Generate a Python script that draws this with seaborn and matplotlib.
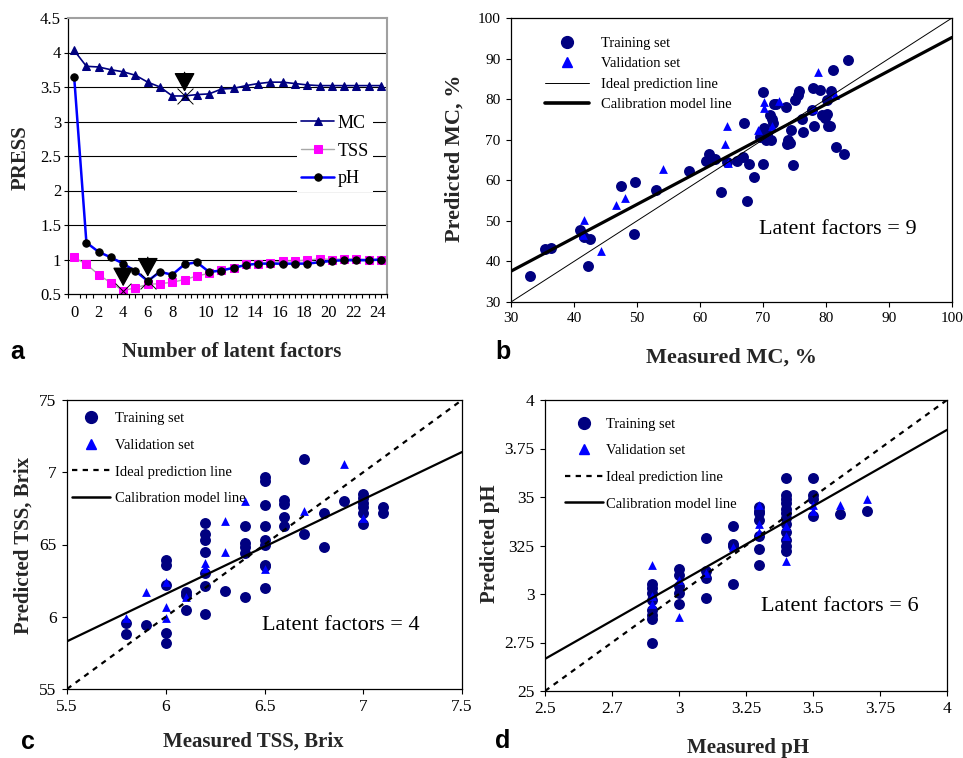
import numpy as np
import pandas as pd
import seaborn as sns
import matplotlib.pyplot as plt
from matplotlib.lines import Line2D

# ---- panel a: PRESS vs number of latent factors ----
factors = list(range(26))
press_mc = [4.03, 3.80, 3.79, 3.75, 3.72, 3.67, 3.57, 3.50, 3.37, 3.37, 3.39, 3.40, 3.47,
            3.48, 3.52, 3.55, 3.57, 3.57, 3.55, 3.53, 3.52, 3.52, 3.52, 3.52, 3.52, 3.52]
press_tss = [1.03, 0.93, 0.78, 0.66, 0.55, 0.59, 0.64, 0.65, 0.67, 0.71, 0.76, 0.80, 0.85,
             0.87, 0.93, 0.94, 0.95, 0.98, 0.98, 0.99, 1.01, 1.00, 1.01, 1.01, 1.00, 1.00]
press_ph = [3.65, 1.245, 1.11, 1.03, 0.94, 0.83, 0.69, 0.82, 0.78, 0.93, 0.96, 0.82, 0.84,
            0.88, 0.92, 0.94, 0.94, 0.94, 0.94, 0.94, 0.96, 0.98, 0.99, 0.99, 0.99, 1.00]
opt_mc, opt_tss, opt_ph = 9, 4, 6
xlab_a = list(range(0, 25, 2))

# ---- panel b: MC ----
mc_train_x = [33.0, 35.4, 36.3, 40.9, 41.6, 42.6, 42.3, 47.4, 49.6, 49.7, 53.0, 58.3, 61.0, 61.5,
              62.4, 63.3, 64.3, 65.8, 67.0, 66.9, 67.7, 67.4, 68.5, 70.0, 70.0, 69.6, 70.2, 70.4,
              71.1, 71.4, 71.6, 71.3, 71.8, 72.0, 70.6, 73.7, 73.9, 73.8, 74.3, 74.5, 74.8, 75.0,
              75.5, 75.7, 76.2, 76.3, 78.0, 78.1, 77.8, 79.1, 79.4, 79.9, 80.1, 80.1, 80.7, 80.8,
              80.3, 81.1, 81.6, 82.9, 83.5]
mc_train_y = [36.5, 43.1, 43.4, 47.8, 46.0, 45.5, 38.9, 58.6, 46.7, 59.5, 57.5, 62.2, 64.8, 66.4,
              65.3, 57.0, 64.5, 64.8, 74.1, 65.7, 63.9, 54.8, 60.8, 81.7, 63.9, 70.7, 73.0, 69.9,
              76.0, 75.2, 74.0, 70.0, 78.7, 78.9, 71.5, 78.1, 70.0, 68.9, 69.2, 72.3, 63.7, 79.9,
              81.0, 82.0, 75.2, 71.9, 82.8, 73.3, 77.4, 82.3, 76.0, 75.4, 76.4, 79.9, 73.3, 82.0,
              73.5, 87.1, 68.2, 66.4, 89.6]
mc_val_x = [41.6, 41.4, 44.3, 46.7, 48.1, 54.2, 64.0, 64.3, 64.4, 69.2, 70.1, 70.1, 71.4, 72.6,
            78.8, 81.5, 78.0]
mc_val_y = [50.3, 46.4, 42.6, 53.8, 55.7, 62.9, 68.9, 73.5, 64.3, 72.5, 79.3, 77.7, 73.3, 79.5,
            86.7, 81.0, 77.6]
calib_mc = (0.823, 12.91)  # slope, intercept

# ---- panel c: TSS ----
tss_train_x = [5.8, 5.8, 5.9, 6.0, 6.0, 6.0, 6.0, 6.0, 6.1, 6.1, 6.1,
               6.2, 6.2, 6.2, 6.2, 6.2, 6.2, 6.2, 6.3, 6.4, 6.4, 6.4, 6.4, 6.4,
               6.5, 6.5, 6.5, 6.5, 6.5, 6.5, 6.5, 6.5, 6.5, 6.6, 6.6, 6.6, 6.6,
               6.7, 6.7, 6.8, 6.8, 6.9, 7.0, 7.0, 7.0, 7.0, 7.0, 7.0, 7.1, 7.1]
tss_train_y = [5.96, 5.88, 5.94, 6.39, 6.36, 6.22, 5.89, 5.82, 6.17, 6.15, 6.05,
               6.65, 6.57, 6.53, 6.45, 6.30, 6.21, 6.02, 6.18, 6.63, 6.51, 6.48, 6.44, 6.14,
               6.97, 6.94, 6.77, 6.63, 6.53, 6.50, 6.36, 6.35, 6.20, 6.81, 6.78, 6.69, 6.63,
               7.09, 6.57, 6.72, 6.48, 6.80, 6.85, 6.82, 6.79, 6.76, 6.72, 6.64, 6.76, 6.72]
tss_val_x = [5.8, 5.9, 6.0, 6.0, 6.0, 6.1, 6.2, 6.2, 6.3, 6.3, 6.4, 6.5, 6.7, 6.9, 7.0]
tss_val_y = [5.99, 6.17, 6.24, 6.07, 5.99, 6.14, 6.37, 6.34, 6.66, 6.45, 6.80, 6.33, 6.73, 7.06, 6.68]
calib_tss = (0.655, 2.2275)

# ---- panel d: pH ----
ph_train_x = [2.9] * 8 + [3.0] * 5 + [3.1] * 4 + [3.2] * 4 + [3.3] * 7 + [3.4] * 12 + [3.5] * 4 + [3.6, 3.7]
ph_train_y = [3.05, 3.03, 3.005, 2.97, 2.92, 2.89, 2.87, 2.75,
              3.13, 3.10, 3.04, 3.005, 2.95,
              3.29, 3.12, 3.08, 2.98,
              3.35, 3.26, 3.25, 3.05,
              3.45, 3.43, 3.42, 3.38, 3.30, 3.23, 3.15,
              3.60, 3.51, 3.49, 3.47, 3.44, 3.42, 3.39, 3.36, 3.32, 3.28, 3.25, 3.22,
              3.60, 3.51, 3.49, 3.40,
              3.41, 3.43]
ph_val_x = [2.9, 2.9, 2.9, 3.0, 3.0, 3.1, 3.2, 3.3, 3.3, 3.3, 3.4, 3.4, 3.4, 3.5, 3.5, 3.6, 3.7]
ph_val_y = [3.15, 2.99, 2.95, 3.07, 2.88, 3.11, 3.24, 3.46, 3.36, 3.32, 3.35, 3.30, 3.17, 3.46, 3.43,
            3.46, 3.49]
calib_ph = (0.787, 0.698)

NAVY = "#000080"
BLUE = "#0000FF"
MAGENTA = "#FF00FF"

sns.set_theme(style="ticks")
plt.rcParams["font.family"] = ["Liberation Serif", "DejaVu Serif"]
plt.rcParams["axes.edgecolor"] = "black"
plt.rcParams["axes.linewidth"] = 0.9
plt.rcParams["xtick.color"] = "black"
plt.rcParams["ytick.color"] = "black"
plt.rcParams["text.color"] = "black"

W, H = 963, 758
fig = plt.figure(figsize=(W / 100, H / 100), dpi=100)


def axes_px(l, t, r, b):
    return fig.add_axes([l / W, 1 - b / H, (r - l) / W, (b - t) / H])


def label_axes(ax, xlabel, ylabel, xpos, ypos, size):
    ax.set_xlabel(xlabel, fontsize=size, fontweight="bold")
    ax.set_ylabel(ylabel, fontsize=size, fontweight="bold")
    ax.xaxis.set_label_coords(*xpos)
    ax.yaxis.set_label_coords(*ypos)
    ax.xaxis.label.set_va("center")
    ax.yaxis.label.set_va("center")


ax_a = axes_px(68, 18, 387, 294)
ax_b = axes_px(511, 18, 952, 302)
ax_c = axes_px(67, 400, 462, 689)
ax_d = axes_px(545, 400, 947, 691)

# ---------------- panel a ----------------
ax = ax_a
df_a = pd.DataFrame({"factors": factors, "MC": press_mc, "TSS": press_tss, "pH": press_ph})
for yv in np.arange(1.0, 4.01, 0.5):
    ax.axhline(yv, color="black", lw=0.8, zorder=0)
sns.lineplot(data=df_a, x="factors", y="MC", ax=ax, color=NAVY, lw=1.2, marker="^",
             markersize=6, markerfacecolor=NAVY, markeredgecolor=NAVY, label="MC")
sns.lineplot(data=df_a, x="factors", y="TSS", ax=ax, color="#a8a8a8", lw=1.0, marker="s",
             markersize=5.2, markerfacecolor=MAGENTA, markeredgecolor=MAGENTA, label="TSS")
sns.lineplot(data=df_a, x="factors", y="pH", ax=ax, color=BLUE, lw=1.8, marker="o",
             markersize=5.3, markerfacecolor="black", markeredgecolor="black", label="pH")

for series, k in [(press_mc, opt_mc), (press_tss, opt_tss), (press_ph, opt_ph)]:
    yk = series[k]
    ax.scatter(k, yk, marker="x", s=130, color="black", linewidths=0.7, zorder=6)
    ax.annotate("", xy=(k, yk), xytext=(0, 17), textcoords="offset points",
                arrowprops=dict(arrowstyle="-|>,head_length=1.0,head_width=0.55",
                                color="black", lw=1.0, shrinkA=0, shrinkB=3), zorder=7)

ax.set_xlim(-0.5, 25.5)
ax.set_ylim(0.5, 4.5)
yt = np.arange(0.5, 4.51, 0.5)
ax.set_yticks(yt)
ax.set_yticklabels([f"{v:g}" for v in yt], fontsize=12)
ax.set_xticks(np.arange(-0.5, 25.51, 0.5), minor=True)
ax.set_xticks([v + (0.75 if v >= 10 else 0) for v in xlab_a])
ax.set_xticklabels([str(v) for v in xlab_a], fontsize=12)
ax.tick_params(axis="x", which="major", length=0, pad=8)
ax.tick_params(axis="x", which="minor", length=3, width=0.8, direction="out")
ax.tick_params(axis="y", length=3, width=0.8, direction="out", pad=2)
for s in ["top", "right"]:
    ax.spines[s].set_color("#a0a0a0")
    ax.spines[s].set_linewidth(1.5)
handles, labels = ax.get_legend_handles_labels()
ax.legend(handles, labels, loc="center", bbox_to_anchor=(0.837, 0.518), frameon=True,
          facecolor="white", edgecolor="none", framealpha=1, fancybox=False, fontsize=13,
          handlelength=1.8, handletextpad=0.2, borderpad=0.25, labelspacing=0.6)
label_axes(ax, "Number of latent factors", "PRESS", (0.514, -0.21), (-0.15, 0.495), 15)


# ---------------- scatter panels ----------------
def scatter_panel(ax, tx, ty, vx, vy, calib, lims, ideal_style, cal_lw, csize, tsize):
    sns.scatterplot(x=tx, y=ty, ax=ax, marker="o", s=csize, color=NAVY, edgecolor=NAVY,
                    linewidth=0, legend=False, zorder=3)
    sns.scatterplot(x=vx, y=vy, ax=ax, marker="^", s=tsize, color=BLUE, edgecolor=BLUE,
                    linewidth=0, legend=False, zorder=3)
    xs = np.array(lims)
    sns.lineplot(x=xs, y=xs, ax=ax, color="black", zorder=4, **ideal_style)
    sns.lineplot(x=xs, y=calib[0] * xs + calib[1], ax=ax, color="black", lw=cal_lw, zorder=4)
    ax.set_xlim(*lims)
    ax.set_ylim(*lims)
    ax.tick_params(length=3.5, width=0.8, direction="out", pad=4)


def panel_legend(ax, ideal_style, cal_lw, anchor, spacing, hlen, hpad):
    handles = [
        Line2D([], [], ls="none", marker="o", color=NAVY, markersize=8.5),
        Line2D([], [], ls="none", marker="^", color=BLUE, markersize=6.5),
        Line2D([], [], color="black", **ideal_style),
        Line2D([], [], color="black", lw=cal_lw),
    ]
    labels = ["Training set", "Validation set", "Ideal prediction line", "Calibration model line"]
    ax.legend(handles, labels, loc="upper left", bbox_to_anchor=anchor, frameon=False,
              fontsize=10.5, handlelength=hlen, handletextpad=hpad, labelspacing=spacing,
              borderpad=0, borderaxespad=0)


# panel b
thin = dict(lw=0.7)
scatter_panel(ax_b, mc_train_x, mc_train_y, mc_val_x, mc_val_y, calib_mc, (30, 100), thin, 2.3, 62, 40)
bt = np.arange(30, 101, 10)
ax_b.set_xticks(bt)
ax_b.set_yticks(bt)
ax_b.set_xticklabels([str(v) for v in bt], fontsize=11)
ax_b.set_yticklabels([str(v) for v in bt], fontsize=11)
panel_legend(ax_b, thin, 2.6, (0.077, 0.935), 0.5, 3.0, 0.86)
ax_b.text(0.741, 0.254, "Latent factors = 9", transform=ax_b.transAxes, fontsize=16,
          ha="center", va="center")
label_axes(ax_b, "Measured MC, %", "Predicted MC, %", (0.5, -0.197), (-0.127, 0.507), 16)

# panel c
dashed = dict(lw=1.6, ls=(0, (2.4, 2.4)))
scatter_panel(ax_c, tss_train_x, tss_train_y, tss_val_x, tss_val_y, calib_tss, (5.5, 7.5), dashed, 1.6, 62, 40)
ct = np.arange(5.5, 7.51, 0.5)
ax_c.set_xticks(ct)
ax_c.set_yticks(ct)
ax_c.set_xticklabels(["5.5", "6", "6.5", "7", "7.5"], fontsize=12.5)
ax_c.set_yticklabels(["55", "6", "65", "7", "75"], fontsize=12.5)
panel_legend(ax_c, dashed, 1.8, (0.0127, 0.958), 0.92, 2.6, 0.35)
ax_c.text(0.694, 0.221, "Latent factors = 4", transform=ax_c.transAxes, fontsize=16,
          ha="center", va="center")
label_axes(ax_c, "Measured TSS, Brix", "Predicted TSS, Brix", (0.472, -0.183), (-0.111, 0.498), 15)

# panel d
scatter_panel(ax_d, ph_train_x, ph_train_y, ph_val_x, ph_val_y, calib_ph, (2.5, 4.0), dashed, 1.6, 62, 40)
dt = np.arange(2.5, 4.01, 0.25)
ax_d.set_xticks(dt)
ax_d.set_yticks(dt)
ax_d.set_xticklabels(["2.5", "2.7", "3", "3.25", "3.5", "3.75", "4"], fontsize=12.5)
ax_d.set_yticklabels(["25", "2.75", "3", "325", "35", "3.75", "4"], fontsize=12.5)
panel_legend(ax_d, dashed, 1.8, (0.05, 0.94), 0.92, 2.6, 0.2)
ax_d.text(0.734, 0.289, "Latent factors = 6", transform=ax_d.transAxes, fontsize=16,
          ha="center", va="center")
label_axes(ax_d, "Measured pH", "Predicted pH", (0.505, -0.196), (-0.137, 0.505), 15)

# panel letters
for letter, (px, py) in zip("abcd", [(17, 352), (503, 352), (28, 742), (503, 741)]):
    fig.text(px / W, 1 - py / H, letter, fontfamily="Liberation Sans", fontweight="bold",
             fontsize=18, ha="center", va="center")

fig.savefig("out.png", dpi=100, facecolor="white")
